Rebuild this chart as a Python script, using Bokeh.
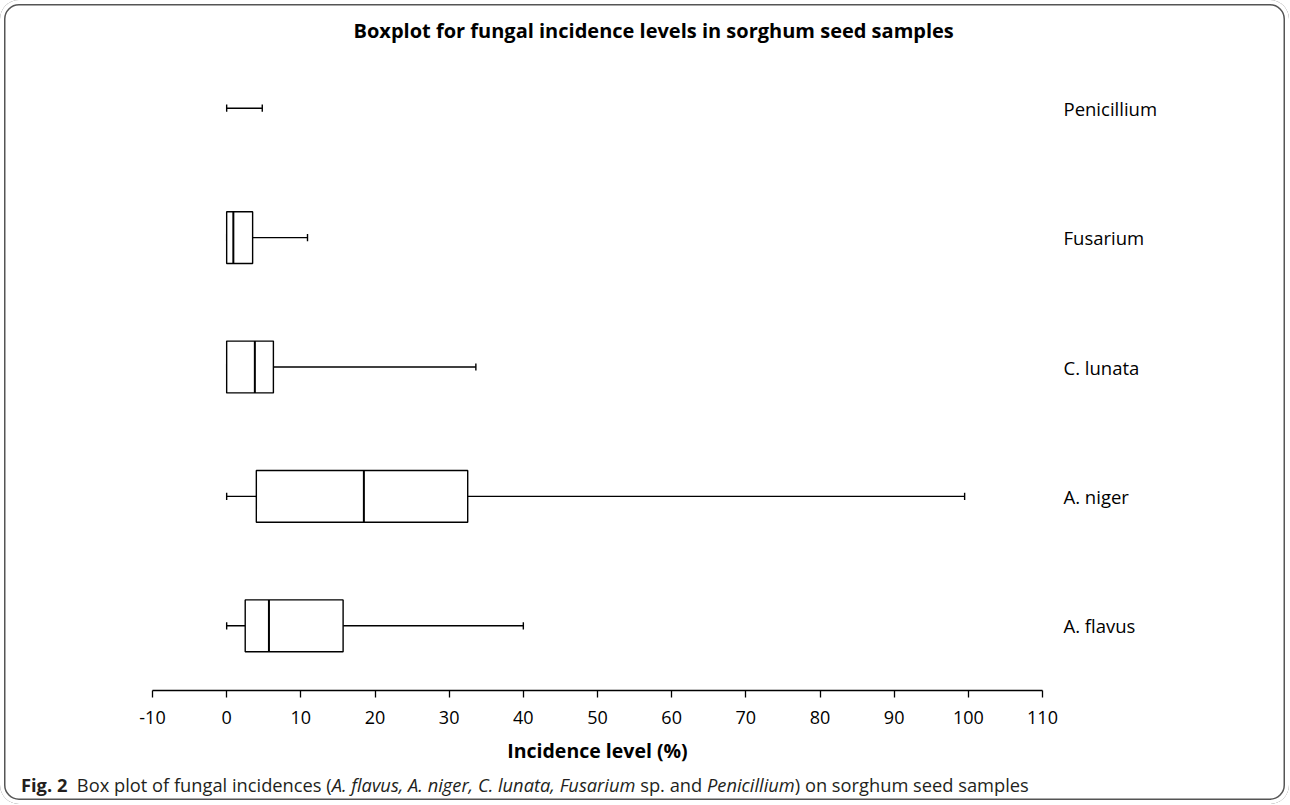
from bokeh.plotting import figure
from bokeh.layouts import column
from bokeh.models import ColumnDataSource, FactorRange, Range1d, FixedTicker, Div
from bokeh.transform import dodge
from bokeh.embed import file_html
from bokeh.resources import INLINE

# ---- data ----
categories = ["A. flavus", "A. niger", "C. lunata", "Fusarium", "Penicillium"]
mins = [0.0, 0.0, 0.0, 0.0, 0.0]
q1s = [2.5, 4.0, 0.0, 0.0, 0.0]
medians = [5.7, 18.5, 3.8, 0.9, 0.0]
q3s = [15.7, 32.5, 6.3, 3.5, 0.0]
maxs = [40.0, 99.5, 33.6, 10.9, 4.8]
x_ticks = [-10, 0, 10, 20, 30, 40, 50, 60, 70, 80, 90, 100, 110]
x_tick_labels = ["-10", "0", "10", "20", "30", "40", "50", "60", "70", "80", "90", "100", "110"]

title_text = "Boxplot for fungal incidence levels in sorghum seed samples"
x_label = "Incidence level (%)"
caption_html = ("<b>Fig. 2</b>&nbsp;&nbsp;Box plot of fungal incidences "
                "(<i>A. flavus, A. niger, C. lunata, Fusarium</i> sp. and "
                "<i>Penicillium</i>) on sorghum seed samples")

FONT = "Open Sans"
CAP_COLOR = "#231f20"
TOTAL_W = 1289
TOTAL_H = 804

src = ColumnDataSource(dict(cat=categories, lo=mins, q1=q1s, med=medians, q3=q3s, hi=maxs))
has_box = [i for i in range(len(categories)) if q3s[i] > q1s[i]]
box_src = ColumnDataSource(dict(
    cat=[categories[i] for i in has_box],
    q1=[q1s[i] for i in has_box],
    med=[medians[i] for i in has_box],
    q3=[q3s[i] for i in has_box],
))

MB_TOP, FRAME_H, MB_BOTTOM = 43, 647, 87
FIG_H = MB_TOP + FRAME_H + MB_BOTTOM
p = figure(
    frame_width=890, frame_height=FRAME_H,
    y_range=FactorRange(*categories, range_padding=0),
    x_range=Range1d(-10, 110),
    output_backend="svg", toolbar_location=None,
    y_axis_location="right",
    min_border_left=152, min_border_right=TOTAL_W - 152 - 890,
    min_border_top=MB_TOP, min_border_bottom=MB_BOTTOM,
    background_fill_color=None, border_fill_color=None,
)
p.outline_line_color = None
p.xgrid.visible = False
p.ygrid.visible = False

p.title.text = title_text
p.title.align = "left"
p.title.offset = 201
p.title.standoff = 0
p.title.text_font = FONT
p.title.text_font_size = "20px"
p.title.text_font_style = "bold"
p.title.text_color = "black"

LW = 1.4
yr = p.y_range
# whiskers
p.segment(x0="lo", y0="cat", x1="q1", y1="cat", source=src, line_color="black", line_width=LW)
p.segment(x0="q3", y0="cat", x1="hi", y1="cat", source=src, line_color="black", line_width=LW)
# caps
p.segment(x0="lo", y0=dodge("cat", -0.028, range=yr), x1="lo", y1=dodge("cat", 0.028, range=yr),
          source=src, line_color="black", line_width=LW)
p.segment(x0="hi", y0=dodge("cat", -0.028, range=yr), x1="hi", y1=dodge("cat", 0.028, range=yr),
          source=src, line_color="black", line_width=LW)
# boxes
p.hbar(y="cat", left="q1", right="q3", height=0.4, source=box_src,
       fill_color="white", line_color="black", line_width=LW)
# medians
p.segment(x0="med", y0=dodge("cat", -0.2, range=yr), x1="med", y1=dodge("cat", 0.2, range=yr),
          source=box_src, line_color="black", line_width=2)

# x axis
xa = p.xaxis[0]
xa.ticker = FixedTicker(ticks=x_ticks)
xa.major_label_overrides = {t: s for t, s in zip(x_ticks, x_tick_labels)}
xa.minor_tick_line_color = None
xa.major_tick_in = 0
xa.major_tick_out = 7
xa.axis_line_width = 1.3
xa.major_tick_line_width = 1.3
xa.axis_line_color = "black"
xa.major_tick_line_color = "black"
xa.major_label_text_font = FONT
xa.major_label_text_font_size = "18px"
xa.major_label_text_color = "black"
xa.major_label_standoff = 13
xa.axis_label = x_label
xa.axis_label_text_font = FONT
xa.axis_label_text_font_size = "19.5px"
xa.axis_label_text_font_style = "bold"
xa.axis_label_text_color = "black"
xa.axis_label_standoff = 10

# y axis (right, labels only)
ya = p.yaxis[0]
ya.axis_line_color = None
ya.major_tick_line_color = None
ya.minor_tick_line_color = None
ya.major_tick_in = 0
ya.major_tick_out = 0
ya.major_label_standoff = 21
ya.major_label_text_font = FONT
ya.major_label_text_font_size = "18.5px"
ya.major_label_text_color = "black"

# caption (no default widget margin, so heights add up exactly)
cap_h = TOTAL_H - FIG_H
cap = Div(text=caption_html, width=TOTAL_W, height=cap_h, margin=0,
          styles={"font-family": FONT, "font-size": "18.3px", "color": CAP_COLOR,
                  "line-height": "16px", "padding-left": "21px", "white-space": "nowrap"})

layout = column(p, cap, spacing=0)
layout.styles = {"box-shadow": "inset 0 0 0 4px #ffffff, inset 0 0 0 5.5px #555555",
                 "border-radius": "19px", "background-color": "white"}

open("out.html", "w").write(file_html(layout, INLINE))
